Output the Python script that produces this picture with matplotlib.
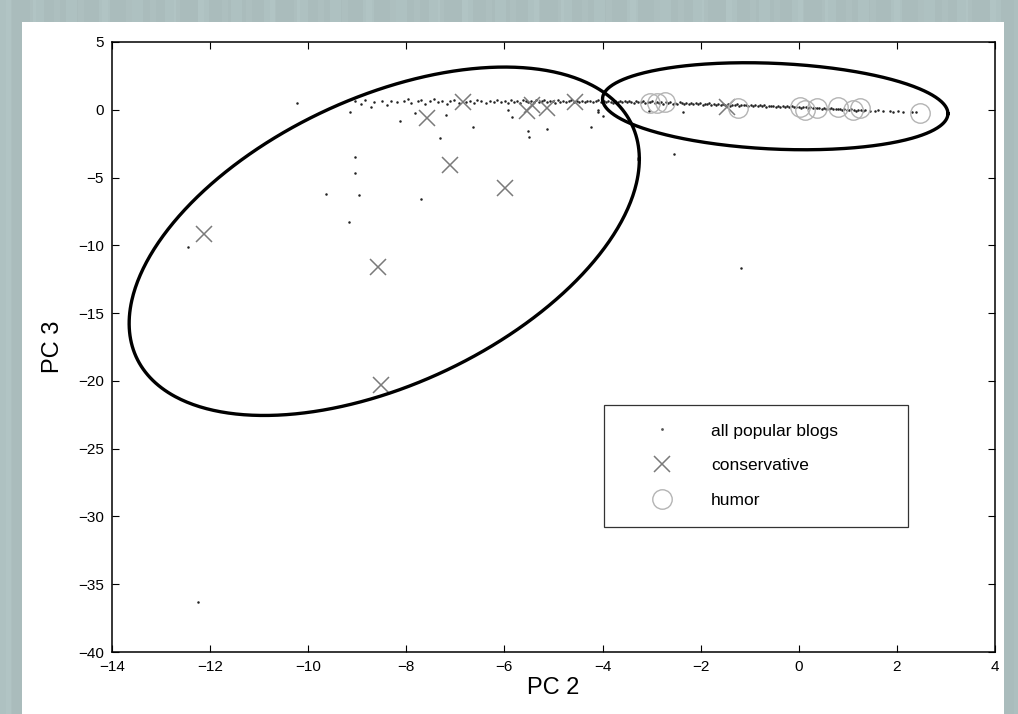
import numpy as np
import matplotlib
matplotlib.use('Agg')
import matplotlib.pyplot as plt
from matplotlib.patches import Rectangle

plt.rcParams['font.family'] = ['Liberation Sans', 'DejaVu Sans']

# All popular blogs (PC 2, PC 3)
blogs_x = [
    -10.23, -12.45, -12.25, -9.15, -9.05, -9.05, -9.64, -8.97, -9.17, -8.13, -7.31, -6.64,
    -5.52, -5.50, -5.13, -4.24, -7.70, -4.10, -4.10, -2.36, -7.82, -7.20, -2.54, -1.18,
    -5.93, -5.85, -4.00, -3.05,
    -9.05, -8.92, -8.85, -8.71, -8.66, -8.49, -8.40, -8.31, -8.18, -8.05, -7.96, -7.90,
    -7.76, -7.70, -7.62, -7.51, -7.43, -7.35, -7.28, -7.18, -7.10, -7.02, -6.93, -6.78,
    -6.70, -6.62, -6.55, -6.47, -6.38, -6.30, -6.22, -6.15, -6.08,
    -5.98, -5.92, -5.86, -5.80, -5.74, -5.68, -5.62, -5.57, -5.51, -5.46, -5.40, -5.35,
    -5.30, -5.24, -5.19, -5.13, -5.08, -5.02, -4.97, -4.91, -4.86, -4.80, -4.75, -4.69,
    -4.64, -4.58, -4.53, -4.47, -4.42, -4.36, -4.31, -4.25, -4.20, -4.14, -4.09, -4.03,
    -3.97, -3.92, -3.88, -3.83, -3.78, -3.74, -3.69, -3.64, -3.60, -3.55, -3.50, -3.46,
    -3.41, -3.36, -3.32, -3.27, -3.22, -3.18, -3.13, -3.08, -3.04, -2.99, -2.94, -2.90,
    -2.85, -2.80, -2.76, -2.71, -2.66, -2.62, -2.57, -2.52, -2.48, -2.43, -2.38, -2.34,
    -2.29, -2.24, -2.20, -2.15, -2.10, -2.06, -2.01, -1.96, -1.92, -1.87, -1.82, -1.78,
    -1.73, -1.68, -1.64, -1.59, -1.54, -1.50, -1.45, -1.40, -1.36, -1.31, -1.26, -1.22,
    -1.17, -1.12, -1.08, -1.03, -0.98, -0.94, -0.89, -0.84, -0.80, -0.75, -0.70, -0.66,
    -0.61, -0.56, -0.52, -0.47, -0.42, -0.38, -0.33, -0.28, -0.24, -0.19, -0.14, -0.10,
    -0.05, 0.00, 0.05, 0.09, 0.14, 0.19, 0.23, 0.28, 0.33, 0.37, 0.42, 0.47,
    0.51, 0.56, 0.61, 0.65, 0.70, 0.75, 0.79, 0.84, 0.89, 0.93, 0.98, 1.03,
    1.07, 1.12, 1.17, 1.21, 1.26, 1.31, 1.36, 1.45, 1.55, 1.62, 1.72, 1.85,
    1.93, 2.02, 2.12, 2.30, 2.38,
]
blogs_y = [
    0.50, -10.10, -36.30, -0.15, -3.50, -4.65, -6.20, -6.30, -8.30, -0.80, -2.07, -1.25,
    -1.55, -1.99, -1.40, -1.25, -6.56, 0.00, -0.20, -0.20, -0.22, -0.40, -3.25, -11.65,
    0.00, -0.50, -0.45, -0.10,
    0.62, 0.45, 0.70, 0.20, 0.55, 0.62, 0.38, 0.66, 0.58, 0.62, 0.80, 0.50,
    0.62, 0.70, 0.45, 0.63, 0.78, 0.55, 0.66, 0.40, 0.62, 0.72, 0.52, 0.60,
    0.68, 0.50, 0.70, 0.62, 0.48, 0.66, 0.58, 0.72, 0.55,
    0.63, 0.50, 0.70, 0.60, 0.66, 0.52, 0.72, 0.61, 0.55, 0.68, 0.60, 0.74,
    0.56, 0.64, 0.70, 0.58, 0.66, 0.62, 0.50, 0.70, 0.60, 0.66, 0.54, 0.62,
    0.70, 0.58, 0.64, 0.60, 0.68, 0.55, 0.62, 0.66, 0.58, 0.63, 0.70, 0.56,
    0.62, 0.55, 0.66, 0.60, 0.52, 0.64, 0.58, 0.68, 0.55, 0.62, 0.57, 0.66,
    0.60, 0.52, 0.63, 0.58, 0.55, 0.64, 0.50, 0.60, 0.55, 0.62, 0.48, 0.57,
    0.52, 0.60, 0.45, 0.55, 0.50, 0.58, 0.46, 0.52, 0.42, 0.55, 0.48, 0.40,
    0.50, 0.44, 0.52, 0.40, 0.47, 0.42, 0.50, 0.38, 0.45, 0.40, 0.47, 0.36,
    0.43, 0.38, 0.45, 0.33, 0.40, 0.36, 0.42, 0.31, 0.38, 0.34, 0.40, 0.30,
    0.36, 0.32, 0.37, 0.28, 0.34, 0.30, 0.35, 0.26, 0.32, 0.28, 0.33, 0.24,
    0.30, 0.26, 0.31, 0.22, 0.28, 0.24, 0.29, 0.20, 0.26, 0.22, 0.27, 0.18,
    0.24, 0.20, 0.15, 0.22, 0.17, 0.12, 0.19, 0.14, 0.10, 0.16, 0.12, 0.07,
    0.14, 0.09, 0.05, 0.11, 0.06, 0.02, 0.09, 0.04, 0.00, 0.06, 0.01, -0.03,
    0.04, -0.02, -0.06, 0.01, -0.04, -0.08, -0.02, -0.06, -0.10, -0.05, -0.12, -0.08,
    -0.14, -0.10, -0.16, -0.14, -0.20,
]

# Conservative blogs
cons_x = [-12.12, -8.58, -8.52, -7.58, -7.11, -5.99, -6.85, -5.44, -5.54, -5.13, -4.56, -1.46]
cons_y = [-9.20, -11.60, -20.30, -0.60, -4.05, -5.80, 0.60, 0.37, -0.07, 0.15, 0.60, 0.22]

# Humor blogs
humor_x = [-3.03, -2.89, -2.73, -1.24, 0.02, 0.12, 0.37, 0.80, 1.10, 1.25, 2.47]
humor_y = [0.50, 0.50, 0.60, 0.15, 0.22, 0.00, 0.15, 0.22, 0.00, 0.15, -0.22]

# Cluster outlines: centre, half widths and tilt phase
big_ell = dict(cx=-8.45, cy=-9.7, a=5.2, b=12.85, phi=1.08)
small_ell = dict(cx=-0.48, cy=0.26, a=3.52, b=3.21, phi=1.74)

fig = plt.figure(figsize=(10.18, 7.14), dpi=100)

# slide background with faint vertical stripes, white panel on top
bg = fig.add_axes([0, 0, 1, 1], zorder=-5)
cols = np.arange(1018)
shade = 0.71 + 0.018 * ((cols // 11) % 3 == 0) + 0.012 * ((cols // 6) % 4 == 1)
img = np.stack([shade * 0.94, shade * 1.04, shade * 1.04], axis=-1)
img = np.clip(img[None, :, :], 0, 1)
bg.imshow(img, aspect='auto', extent=[0, 1, 0, 1])
bg.add_patch(Rectangle((22 / 1018, 0), 982 / 1018, 692 / 714, facecolor='white',
                       edgecolor='none', transform=bg.transAxes))
bg.set_xlim(0, 1)
bg.set_ylim(0, 1)
bg.axis('off')

ax = fig.add_axes([0.110, 0.0868, 0.8674, 0.8544])
ax.set_facecolor('white')

ax.plot(blogs_x, blogs_y, linestyle='none', marker='o', markersize=1.8,
        color='#222222', markeredgewidth=0, label='all popular blogs')
ax.plot(cons_x, cons_y, linestyle='none', marker='x', markersize=11,
        markeredgewidth=1.1, color='#7a7a7a', label='conservative')
ax.plot(humor_x, humor_y, linestyle='none', marker='o', markersize=14,
        markerfacecolor='none', markeredgewidth=1.0, markeredgecolor='#b4b4b4',
        label='humor')

t = np.linspace(0, 2 * np.pi, 500)
for e in (big_ell, small_ell):
    ex = e['cx'] + e['a'] * np.cos(t)
    ey = e['cy'] + e['b'] * np.cos(t + e['phi'])
    ax.plot(ex, ey, color='black', linewidth=2.4)

ax.set_xlim(-14, 4)
ax.set_ylim(-40, 5)
ax.set_xticks(np.arange(-14, 5, 2))
ax.set_yticks(np.arange(-40, 6, 5))
ax.tick_params(direction='in', top=True, right=True, length=5, width=0.8,
               labelsize=11, pad=6)
for s in ax.spines.values():
    s.set_linewidth(1.1)

ax.set_xlabel('PC 2', fontsize=17, labelpad=2)
ax.set_ylabel('PC 3', fontsize=17, labelpad=10)

leg = ax.legend(loc='upper left', bbox_to_anchor=(0.557, 0.205, 0.344, 0.2),
                mode='expand', fontsize=12.5, frameon=True, fancybox=False,
                edgecolor='black', borderpad=1.06, labelspacing=1.14,
                handlelength=4.6, handletextpad=0.5, numpoints=1,
                borderaxespad=0, markerscale=1.0)
leg.get_frame().set_linewidth(0.9)
leg.legend_handles[0].set_markersize(2)
leg.legend_handles[0].set_color('#555555')

fig.savefig('out.png', dpi=100)
